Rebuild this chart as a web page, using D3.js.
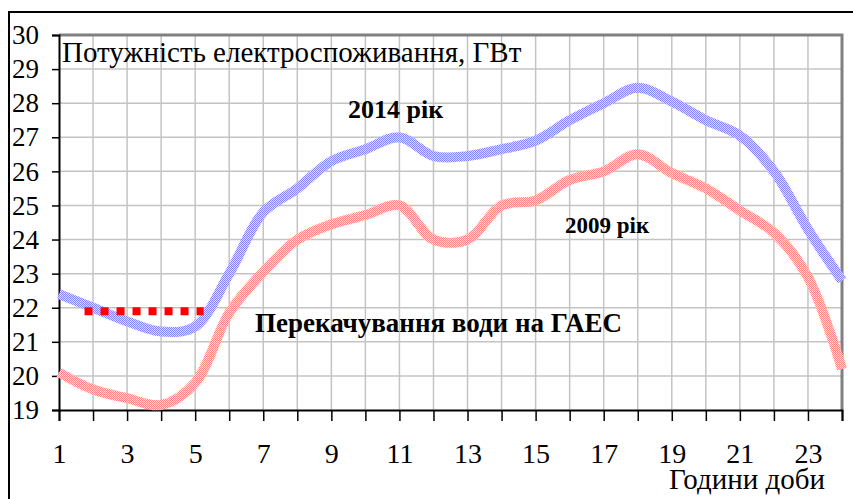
<!DOCTYPE html>
<html>
<head>
<meta charset="utf-8">
<script src="https://cdn.jsdelivr.net/npm/d3@7/dist/d3.min.js"></script>
<style>
  body { margin: 0; background: #fff; }
  svg { display: block; }
  svg text { font-family: "Liberation Serif", "Times New Roman", Times, serif; fill: #000; }
</style>
</head>
<body>
<svg id="chart" width="853" height="499"></svg>
<script>
'use strict';

// hours of the day
var hours = d3.range(1, 25);
// consumption, GW
var load2014 = [22.4, 22.0, 21.6, 21.3, 21.45, 23.0, 24.8, 25.5, 26.3, 26.65, 27.0, 26.45,
                26.45, 26.65, 26.9, 27.5, 28.0, 28.45, 28.05, 27.5, 27.05, 26.0, 24.3, 22.8];
var load2009 = [20.1, 19.6, 19.35, 19.15, 19.8, 21.85, 23.05, 24.0, 24.45, 24.72, 25.0, 24.0,
                24.0, 25.0, 25.15, 25.75, 26.0, 26.5, 25.95, 25.5, 24.85, 24.2, 22.9, 20.2];
// pumped-storage band
var pumpHours = [1.75, 5.25];
var pumpLevel = 21.9;

var yTicks = d3.range(19, 31);
var xLabels = [1, 3, 5, 7, 9, 11, 13, 15, 17, 19, 21, 23];

var svg = d3.select('#chart');

var x = d3.scaleLinear().domain([1, 24]).range([59, 842]),
    y = d3.scaleLinear().domain([19, 30]).range([410, 35]);

// dithered textures for the thick lines
var defs = svg.append('defs');
function dither(id, light, dark) {
  var p = defs.append('pattern')
    .attr('id', id)
    .attr('patternUnits', 'userSpaceOnUse')
    .attr('width', 2).attr('height', 2);
  p.append('rect').attr('width', 2).attr('height', 2).attr('fill', light);
  p.append('rect').attr('width', 1).attr('height', 1).attr('fill', dark);
  p.append('rect').attr('x', 1).attr('y', 1).attr('width', 1).attr('height', 1).attr('fill', dark);
}
dither('blueDots', '#dcdcff', '#8484ff');
dither('redDots', '#ffdcdc', '#ff8484');

// outer frame
svg.append('rect')
  .attr('x', 9).attr('y', 12)
  .attr('width', 900).attr('height', 600)
  .attr('fill', 'none').attr('stroke', '#000').attr('stroke-width', 2);

// grid
svg.append('g')
  .selectAll('line')
  .data(hours.slice(1))
  .join('line')
  .attr('x1', function (d) { return x(d); })
  .attr('x2', function (d) { return x(d); })
  .attr('y1', y(30)).attr('y2', y(19))
  .attr('stroke', '#c4c4c4').attr('stroke-width', 1.5);

svg.append('g')
  .selectAll('line')
  .data(yTicks.slice(1, -1))
  .join('line')
  .attr('x1', x(1)).attr('x2', x(24))
  .attr('y1', function (d) { return y(d); })
  .attr('y2', function (d) { return y(d); })
  .attr('stroke', '#c4c4c4').attr('stroke-width', 1.5);

// plot border (top/right)
svg.append('path')
  .attr('d', 'M' + x(1) + ',' + y(30) + 'H' + x(24) + 'V' + y(19))
  .attr('fill', 'none').attr('stroke', '#808080').attr('stroke-width', 3);

// axes
var yAxis = d3.axisLeft(y)
  .tickValues(yTicks)
  .tickSize(7)
  .tickPadding(13)
  .tickFormat(d3.format('d'));

var gy = svg.append('g')
  .attr('transform', 'translate(' + x(1) + ',0)')
  .call(yAxis);

var xAxis = d3.axisBottom(x)
  .tickValues(hours)
  .tickSize(11)
  .tickPadding(22)
  .tickFormat(function (d) { return xLabels.indexOf(d) >= 0 ? d : ''; });

var gx = svg.append('g')
  .attr('transform', 'translate(0,' + y(19) + ')')
  .call(xAxis);

[gx, gy].forEach(function (g) {
  g.attr('font-family', null).attr('font-size', null);
  g.select('.domain').attr('stroke', '#000').attr('stroke-width', 2);
  g.selectAll('.tick line').attr('stroke', '#000').attr('stroke-width', 1.5);
  g.selectAll('.tick text').attr('fill', '#000');
});
gy.selectAll('.tick text').style('font-size', '27px');
gx.selectAll('.tick text').style('font-size', '28px');

// series
var line = d3.line()
  .x(function (d, i) { return x(hours[i]); })
  .y(function (d) { return y(d); })
  .curve(d3.curveCatmullRom.alpha(0.5));

svg.append('path')
  .datum(load2009)
  .attr('d', line)
  .attr('fill', 'none')
  .attr('stroke', 'url(#redDots)')
  .attr('stroke-width', 10);

svg.append('path')
  .datum(load2014)
  .attr('d', line)
  .attr('fill', 'none')
  .attr('stroke', 'url(#blueDots)')
  .attr('stroke-width', 10);

// pumping band
svg.append('line')
  .attr('x1', x(pumpHours[0])).attr('x2', x(pumpHours[1]))
  .attr('y1', y(pumpLevel)).attr('y2', y(pumpLevel))
  .attr('stroke', '#ff0000')
  .attr('stroke-width', 8)
  .attr('stroke-dasharray', '8,8');

// labels
svg.append('text')
  .attr('x', 62).attr('y', 62)
  .style('font-size', '29px')
  .text('Потужність електроспоживання, ГВт');

svg.append('text')
  .attr('x', 348).attr('y', 118)
  .style('font-size', '26px').style('font-weight', 'bold')
  .text('2014 рік');

svg.append('text')
  .attr('x', 565).attr('y', 233)
  .style('font-size', '23px').style('font-weight', 'bold')
  .text('2009 рік');

svg.append('text')
  .attr('x', 255).attr('y', 332)
  .style('font-size', '27px').style('font-weight', 'bold')
  .text('Перекачування води на ГАЕС');

svg.append('text')
  .attr('x', 825).attr('y', 489)
  .attr('text-anchor', 'end')
  .style('font-size', '29px')
  .text('Години доби');
</script>
</body>
</html>
